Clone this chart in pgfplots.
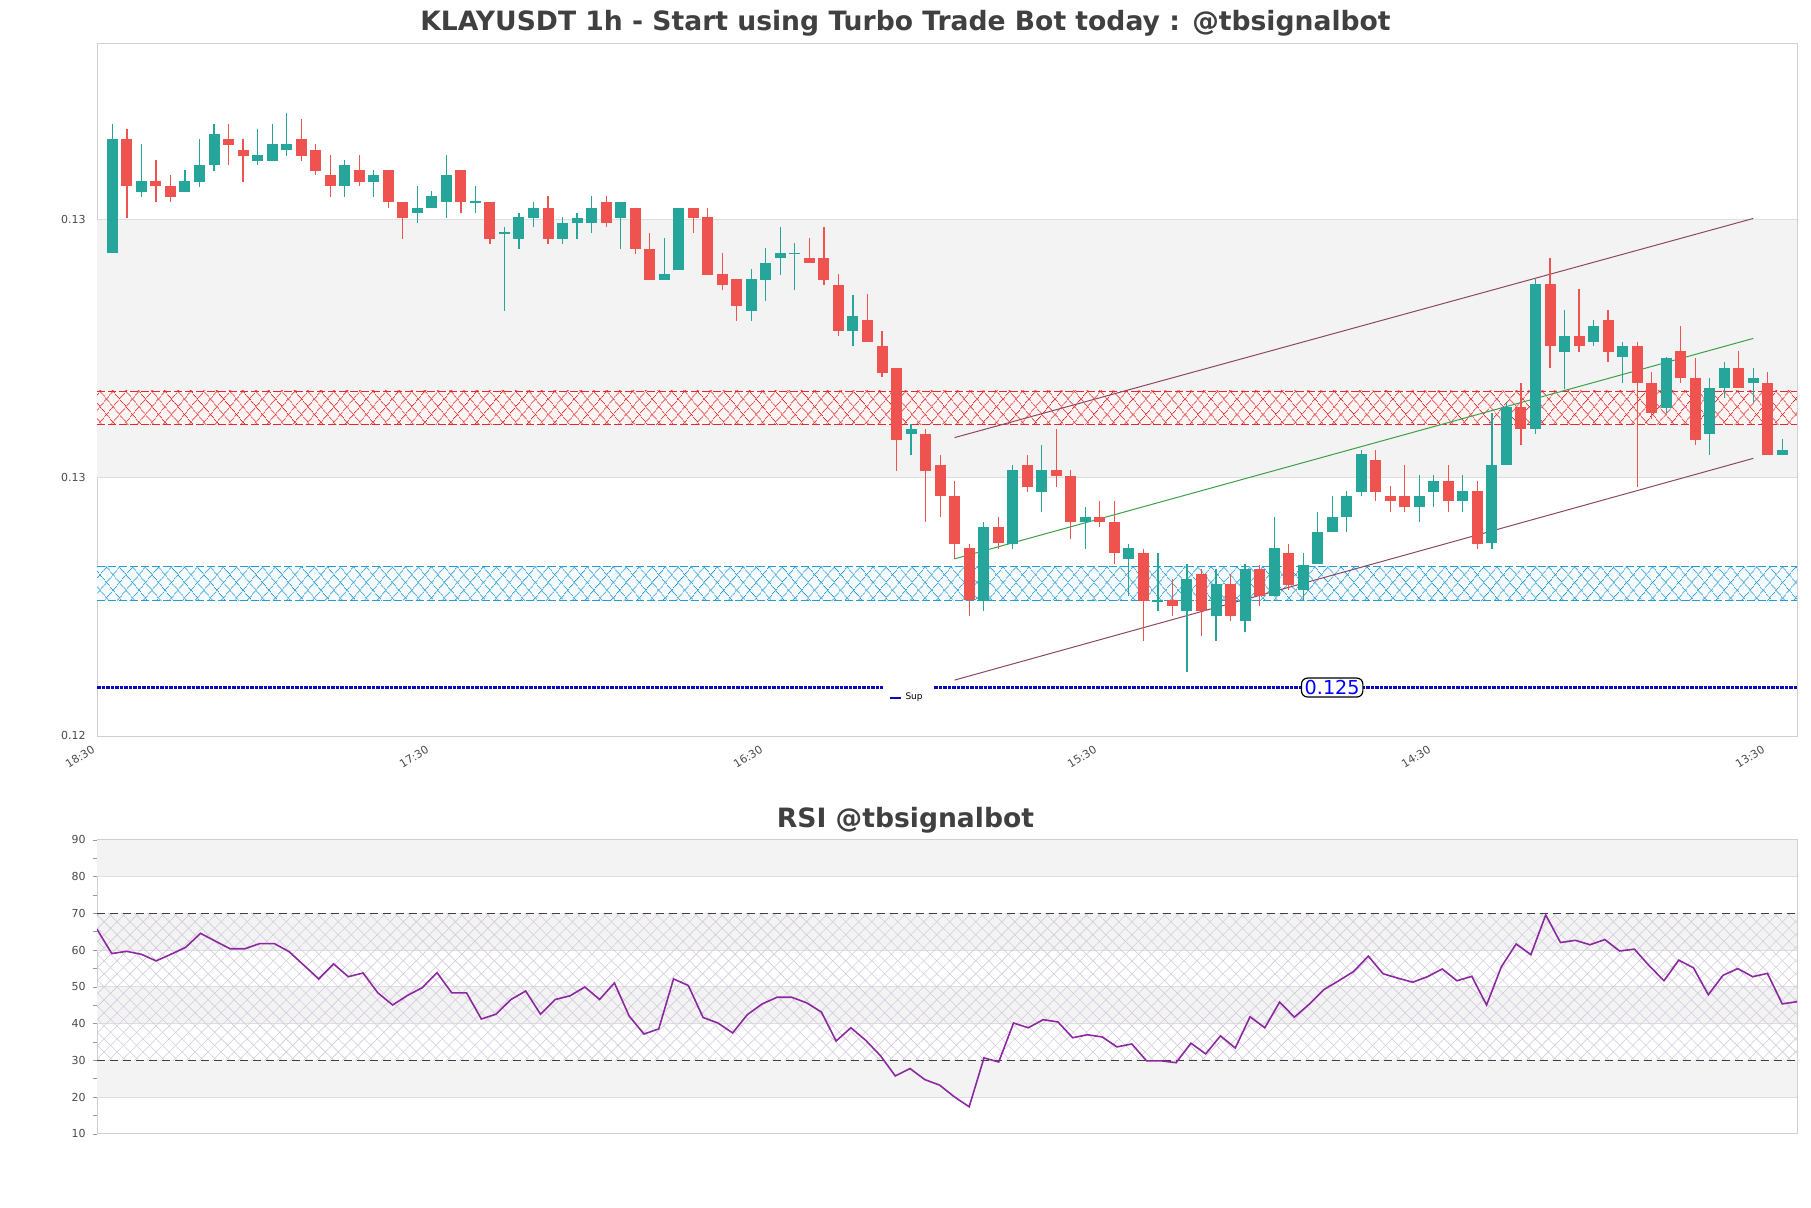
\documentclass[border=0pt]{standalone}
\usepackage{fontspec}
\setmainfont{DejaVu Sans}
\usepackage{pgfplots}
\pgfplotsset{compat=1.18}
\usepackage{pgfplotstable}
\usetikzlibrary{patterns.meta}

\definecolor{cgreen}{RGB}{38,166,154}
\definecolor{cred}{RGB}{239,83,80}
\definecolor{bandgray}{RGB}{243,243,243}
\definecolor{gridgray}{RGB}{222,222,222}
\definecolor{spinegray}{RGB}{208,208,208}
\definecolor{hatchred}{RGB}{222,45,45}
\definecolor{hatchblue}{RGB}{40,155,215}
\definecolor{supblue}{RGB}{10,10,190}
\definecolor{chanline}{RGB}{140,72,100}
\definecolor{midgreen}{RGB}{60,160,70}
\definecolor{rsipurple}{RGB}{140,40,160}
\definecolor{rsihatch}{RGB}{212,204,222}
\definecolor{titlegray}{RGB}{64,64,64}
\definecolor{labelgray}{RGB}{75,75,75}

% green (rising) candles: index, open, high, low, close
\pgfplotstableread{
i o h l c
0 0.127738 0.128739 0.127738 0.128622
2 0.128215 0.128583 0.128175 0.128298
5 0.128215 0.128384 0.128215 0.128298
6 0.128292 0.128622 0.128252 0.128420
7 0.128420 0.128739 0.128377 0.128662
10 0.128454 0.128699 0.128420 0.128500
11 0.128454 0.128739 0.128454 0.128583
12 0.128537 0.128824 0.128494 0.128583
16 0.128258 0.128460 0.128175 0.128420
18 0.128292 0.128384 0.128175 0.128344
21 0.128053 0.128258 0.127976 0.128093
22 0.128093 0.128221 0.128093 0.128182
23 0.128139 0.128500 0.128013 0.128344
25 0.128135 0.128258 0.128053 0.128143
27 0.127896 0.127940 0.127294 0.127904
28 0.127851 0.128053 0.127774 0.128016
29 0.128013 0.128139 0.127940 0.128093
31 0.127851 0.128016 0.127811 0.127976
32 0.127976 0.128053 0.127851 0.128016
33 0.127976 0.128182 0.127900 0.128093
35 0.128013 0.128139 0.127774 0.128139
38 0.127532 0.127857 0.127532 0.127578
39 0.127609 0.128093 0.127609 0.128093
44 0.127294 0.127615 0.127217 0.127539
45 0.127532 0.127777 0.127370 0.127661
46 0.127701 0.127940 0.127572 0.127741
47 0.127737 0.127817 0.127456 0.127745
51 0.127134 0.127419 0.127018 0.127257
55 0.126338 0.126415 0.126173 0.126378
60 0.125043 0.125656 0.124970 0.125619
62 0.125490 0.126100 0.125451 0.126057
64 0.125891 0.126253 0.125732 0.126057
67 0.125653 0.125772 0.125451 0.125696
70 0.125371 0.125490 0.125083 0.125457
72 0.125042 0.125414 0.124970 0.125050
74 0.124970 0.125328 0.124495 0.125212
76 0.124930 0.125291 0.124731 0.125175
78 0.124890 0.125328 0.124808 0.125291
80 0.125083 0.125696 0.125083 0.125457
82 0.125129 0.125414 0.125053 0.125328
83 0.125328 0.125732 0.125328 0.125579
84 0.125579 0.125858 0.125579 0.125696
85 0.125696 0.125898 0.125579 0.125858
86 0.125891 0.126216 0.125858 0.126179
90 0.125772 0.126017 0.125656 0.125858
91 0.125891 0.126017 0.125772 0.125971
93 0.125818 0.126017 0.125732 0.125898
95 0.125490 0.126498 0.125451 0.126100
96 0.126100 0.126583 0.126100 0.126547
98 0.126378 0.127539 0.126338 0.127502
100 0.126975 0.127303 0.126691 0.127098
102 0.127055 0.127220 0.127018 0.127174
104 0.126932 0.127055 0.126736 0.127018
107 0.126537 0.126932 0.126498 0.126932
110 0.126338 0.126776 0.126173 0.126691
111 0.126691 0.126896 0.126614 0.126853
113 0.126736 0.126853 0.126577 0.126776
115 0.126173 0.126296 0.126173 0.126216
}\gtab

% red (falling) candles: index, open, high, low, close
\pgfplotstableread{
i o h l c
1 0.128622 0.128699 0.128013 0.128258
3 0.128298 0.128460 0.128139 0.128258
4 0.128258 0.128344 0.128139 0.128175
8 0.128622 0.128739 0.128420 0.128580
9 0.128537 0.128622 0.128292 0.128494
13 0.128622 0.128779 0.128454 0.128494
14 0.128537 0.128583 0.128344 0.128377
15 0.128344 0.128500 0.128175 0.128258
17 0.128384 0.128500 0.128258 0.128292
19 0.128384 0.128384 0.128093 0.128139
20 0.128139 0.128139 0.127851 0.128013
24 0.128384 0.128384 0.128053 0.128139
26 0.128139 0.128139 0.127811 0.127851
30 0.128093 0.128182 0.127811 0.127851
34 0.128139 0.128182 0.127940 0.127976
36 0.128093 0.128093 0.127735 0.127774
37 0.127774 0.127900 0.127532 0.127532
40 0.128093 0.128093 0.127900 0.128013
41 0.128016 0.128093 0.127572 0.127572
42 0.127578 0.127741 0.127456 0.127496
43 0.127539 0.127539 0.127217 0.127333
48 0.127701 0.127857 0.127661 0.127661
49 0.127701 0.127940 0.127496 0.127532
50 0.127496 0.127578 0.127095 0.127134
52 0.127220 0.127419 0.127055 0.127055
53 0.127018 0.127134 0.126776 0.126813
54 0.126853 0.126853 0.126054 0.126296
56 0.126338 0.126378 0.125656 0.126054
57 0.126100 0.126173 0.125696 0.125858
58 0.125858 0.125971 0.125371 0.125490
59 0.125451 0.125490 0.124930 0.125053
61 0.125619 0.125696 0.125451 0.125490
63 0.126100 0.126173 0.125891 0.125931
65 0.126057 0.126378 0.125931 0.126011
66 0.126011 0.126057 0.125527 0.125653
68 0.125696 0.125818 0.125616 0.125653
69 0.125653 0.125818 0.125328 0.125414
71 0.125414 0.125451 0.124731 0.125046
73 0.125053 0.125212 0.124930 0.125010
75 0.125255 0.125291 0.124771 0.124970
77 0.125175 0.125255 0.124890 0.124930
79 0.125291 0.125328 0.125007 0.125083
81 0.125414 0.125490 0.125129 0.125169
87 0.126136 0.126216 0.125818 0.125891
88 0.125858 0.125937 0.125732 0.125818
89 0.125858 0.126100 0.125732 0.125772
92 0.125971 0.126100 0.125732 0.125818
94 0.125898 0.125971 0.125451 0.125490
97 0.126547 0.126736 0.126253 0.126378
99 0.127502 0.127701 0.126853 0.127018
101 0.127098 0.127462 0.126975 0.127018
103 0.127220 0.127303 0.126896 0.126975
105 0.127018 0.127055 0.125931 0.126736
106 0.126736 0.126816 0.126455 0.126498
108 0.126981 0.127174 0.126736 0.126776
109 0.126776 0.126932 0.126253 0.126296
112 0.126853 0.126981 0.126691 0.126691
114 0.126736 0.126816 0.126173 0.126173
}\rtab

\pgfplotstableread{
i v
0 65.7
1 59.1
2 59.7
3 58.9
4 57.1
5 58.9
6 60.8
7 64.6
8 62.5
9 60.4
10 60.4
11 61.8
12 61.8
13 59.6
14 55.9
15 52.2
16 56.3
17 52.8
18 53.8
19 48.4
20 45.1
21 47.7
22 49.8
23 53.9
24 48.4
25 48.4
26 41.3
27 42.6
28 46.6
29 48.9
30 42.6
31 46.6
32 47.6
33 50.0
34 46.6
35 51.1
36 42.1
37 37.2
38 38.6
39 52.2
40 50.4
41 41.7
42 40.2
43 37.5
44 42.5
45 45.4
46 47.2
47 47.2
48 45.7
49 43.2
50 35.3
51 38.9
52 35.5
53 31.3
54 25.8
55 27.8
56 24.8
57 23.3
58 20.1
59 17.4
60 30.7
61 29.6
62 40.2
63 38.9
64 41.1
65 40.5
66 36.2
67 37.0
68 36.4
69 33.7
70 34.5
71 29.9
72 29.9
73 29.4
74 34.7
75 31.8
76 36.7
77 33.4
78 41.9
79 38.9
80 45.9
81 41.8
82 45.3
83 49.3
84 51.7
85 54.2
86 58.4
87 53.6
88 52.4
89 51.3
90 52.8
91 54.9
92 51.7
93 52.9
94 45.1
95 55.5
96 61.7
97 58.8
98 69.6
99 62.1
100 62.7
101 61.5
102 62.9
103 59.8
104 60.3
105 55.8
106 51.7
107 57.3
108 55.2
109 47.9
110 53.2
111 55.0
112 52.8
113 53.7
114 45.4
115 46.0
}\rsitab

\begin{document}
\begin{tikzpicture}
\path[use as bounding box, fill=white] (0,0) rectangle (905.5pt,604pt);

% ---------------- main price chart ----------------
\begin{axis}[
  at={(48.5pt,235.5pt)}, anchor=south west,
  scale only axis, width=850pt, height=346.5pt,
  xmin=-1.06, xmax=116.01, ymin=0.12399, ymax=0.12936,
  axis line style={draw=spinegray, line width=0.5pt},
  ytick={0.124,0.126,0.128}, yticklabels={0.12,0.13,0.13},
  xtick={-1.05,21.95,44.95,67.95,90.95,113.95},
  xticklabels={18:30,17:30,16:30,15:30,14:30,13:30},
  ytick pos=left, xtick pos=bottom,
  major tick length=0pt,
  ticklabel style={font=\fontsize{5.5}{6.5}\selectfont, text=labelgray},
  yticklabel style={xshift=-2.2pt},
  xticklabel style={rotate=32, anchor=north east, xshift=-1pt, yshift=1.8pt},
  scaled y ticks=false,
  legend style={at={(0.4768,0.0563)}, anchor=center, draw=none, fill=white,
    font=\fontsize{4.5}{5}\selectfont, inner xsep=3pt, inner ysep=2.5pt},
]
% background bands and grid
\addplot[forget plot, draw=none, fill=bandgray] coordinates {(-1.06,0.126) (116.01,0.126) (116.01,0.128) (-1.06,0.128)} -- cycle;
\addplot[forget plot, gridgray, line width=0.5pt] coordinates {(-1.06,0.126) (116.01,0.126)};
\addplot[forget plot, gridgray, line width=0.5pt] coordinates {(-1.06,0.128) (116.01,0.128)};
% resistance zone (red, hatched)
\addplot[forget plot, draw=none, fill=red!4] coordinates {(-1.06,0.126408) (116.01,0.126408) (116.01,0.126671) (-1.06,0.126671)} -- cycle;
\addplot[forget plot, draw=none, pattern={Lines[angle=50,distance=5.4pt,line width=0.42pt]}, pattern color=hatchred] coordinates {(-1.06,0.126408) (116.01,0.126408) (116.01,0.126671) (-1.06,0.126671)} -- cycle;
\addplot[forget plot, draw=none, pattern={Lines[angle=-50,distance=5.4pt,line width=0.42pt]}, pattern color=hatchred] coordinates {(-1.06,0.126408) (116.01,0.126408) (116.01,0.126671) (-1.06,0.126671)} -- cycle;
\addplot[forget plot, hatchred, line width=0.45pt, dash pattern=on 4pt off 1.5pt] coordinates {(-1.06,0.126408) (116.01,0.126408)};
\addplot[forget plot, hatchred, line width=0.45pt, dash pattern=on 4pt off 1.5pt] coordinates {(-1.06,0.126671) (116.01,0.126671)};
% support zone (blue, hatched)
\addplot[forget plot, draw=none, fill=hatchblue!4] coordinates {(-1.06,0.125045) (116.01,0.125045) (116.01,0.125309) (-1.06,0.125309)} -- cycle;
\addplot[forget plot, draw=none, pattern={Lines[angle=50,distance=5.4pt,line width=0.42pt]}, pattern color=hatchblue] coordinates {(-1.06,0.125045) (116.01,0.125045) (116.01,0.125309) (-1.06,0.125309)} -- cycle;
\addplot[forget plot, draw=none, pattern={Lines[angle=-50,distance=5.4pt,line width=0.42pt]}, pattern color=hatchblue] coordinates {(-1.06,0.125045) (116.01,0.125045) (116.01,0.125309) (-1.06,0.125309)} -- cycle;
\addplot[forget plot, hatchblue, line width=0.45pt, dash pattern=on 4pt off 1.5pt] coordinates {(-1.06,0.125045) (116.01,0.125045)};
\addplot[forget plot, hatchblue, line width=0.45pt, dash pattern=on 4pt off 1.5pt] coordinates {(-1.06,0.125309) (116.01,0.125309)};
% Sup line
\addplot[supblue, line width=1.1pt, dash pattern=on 1.8pt off 0.45pt,
  legend image code/.code={\draw[supblue, line width=1pt, solid] (0pt,0pt) -- (5.5pt,0pt);}]
  coordinates {(-1.06,0.124373) (116.01,0.124373)};
\addlegendentry{Sup}
% channel
\addplot[forget plot, chanline, line width=0.5pt] coordinates {(58,0.126310) (113,0.128008)};
\addplot[forget plot, chanline, line width=0.5pt] coordinates {(58,0.124431) (113,0.126149)};
\addplot[forget plot, midgreen, line width=0.5pt] coordinates {(58,0.1253705) (113,0.1270785)};
% candles: wicks
\addplot[forget plot, draw=none, mark=none,
  error bars/.cd, y dir=both, y explicit, error mark=none,
  error bar style={draw=cgreen, line width=0.6pt, solid}]
  table[x=i, y expr={(\thisrow{h}+\thisrow{l})/2}, y error expr={(\thisrow{h}-\thisrow{l})/2}] {\gtab};
\addplot[forget plot, draw=none, mark=none,
  error bars/.cd, y dir=both, y explicit, error mark=none,
  error bar style={draw=cred, line width=0.6pt, solid}]
  table[x=i, y expr={(\thisrow{h}+\thisrow{l})/2}, y error expr={(\thisrow{h}-\thisrow{l})/2}] {\rtab};
% candles: bodies
\addplot[forget plot, draw=none, mark=none,
  error bars/.cd, y dir=both, y explicit, error mark=none,
  error bar style={draw=cgreen, line width=5.5pt, solid}]
  table[x=i, y expr={(\thisrow{o}+\thisrow{c})/2}, y error expr={(\thisrow{c}-\thisrow{o})/2}] {\gtab};
\addplot[forget plot, draw=none, mark=none,
  error bars/.cd, y dir=both, y explicit, error mark=none,
  error bar style={draw=cred, line width=5.5pt, solid}]
  table[x=i, y expr={(\thisrow{o}+\thisrow{c})/2}, y error expr={(\thisrow{o}-\thisrow{c})/2}] {\rtab};
\node[draw=black, fill=white, rounded corners=3pt, line width=0.6pt, inner xsep=1.6pt, inner ysep=1.1pt,
  text=blue, font=\fontsize{9.6}{10}\selectfont] at (axis cs:84,0.124373) {0.125};
\end{axis}

% ---------------- RSI ----------------
\begin{axis}[
  at={(48.5pt,37pt)}, anchor=south west,
  scale only axis, width=850pt, height=147pt,
  xmin=0, xmax=115, ymin=10, ymax=90,
  axis line style={draw=spinegray, line width=0.5pt},
  xtick=\empty,
  ytick={10,20,30,40,50,60,70,80,90},
  yticklabels={10,20,30,40,50,60,70,80,90},
  minor ytick={15,25,35,45,55,65,75,85},
  ytick pos=left, tick align=outside,
  major tick length=2.2pt, minor tick length=2.2pt,
  tick style={draw=gray!80, line width=0.4pt},
  ticklabel style={font=\fontsize{5.5}{6.5}\selectfont, text=labelgray},
]
\addplot[draw=none, fill=bandgray] coordinates {(0,80) (115,80) (115,90) (0,90)} -- cycle;
\addplot[draw=none, fill=bandgray] coordinates {(0,60) (115,60) (115,70) (0,70)} -- cycle;
\addplot[draw=none, fill=bandgray] coordinates {(0,40) (115,40) (115,50) (0,50)} -- cycle;
\addplot[draw=none, fill=bandgray] coordinates {(0,20) (115,20) (115,30) (0,30)} -- cycle;
\addplot[gridgray, line width=0.5pt] coordinates {(0,20) (115,20)};
\addplot[gridgray, line width=0.5pt] coordinates {(0,40) (115,40)};
\addplot[gridgray, line width=0.5pt] coordinates {(0,50) (115,50)};
\addplot[gridgray, line width=0.5pt] coordinates {(0,60) (115,60)};
\addplot[gridgray, line width=0.5pt] coordinates {(0,80) (115,80)};
\addplot[draw=none, pattern={Lines[angle=45,distance=4.6pt,line width=0.3pt]}, pattern color=rsihatch] coordinates {(0,30) (115,30) (115,70) (0,70)} -- cycle;
\addplot[draw=none, pattern={Lines[angle=-45,distance=4.6pt,line width=0.3pt]}, pattern color=rsihatch] coordinates {(0,30) (115,30) (115,70) (0,70)} -- cycle;
\addplot[black!75, line width=0.6pt, dash pattern=on 4pt off 2.5pt] coordinates {(0,70) (115,70)};
\addplot[black!75, line width=0.6pt, dash pattern=on 4pt off 2.5pt] coordinates {(0,30) (115,30)};
\addplot[rsipurple, line width=0.8pt, mark=none] table[x=i, y=v] {\rsitab};
\end{axis}

\node[font=\bfseries\fontsize{13.3}{16}\selectfont, text=titlegray] at (452.75pt,592.3pt) {KLAYUSDT 1h - Start using Turbo Trade Bot today : @tbsignalbot};
\node[font=\bfseries\fontsize{13.3}{16}\selectfont, text=titlegray] at (452.75pt,194pt) {RSI @tbsignalbot};
\end{tikzpicture}
\end{document}
